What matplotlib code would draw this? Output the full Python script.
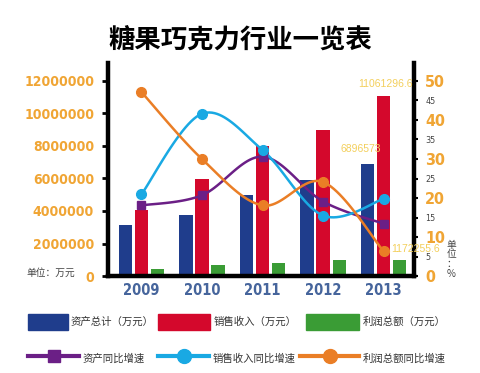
import numpy as np
import matplotlib.pyplot as plt
from matplotlib.patches import Patch
from matplotlib.lines import Line2D
from matplotlib import font_manager

plt.rcParams['font.family'] = ['Noto Sans CJK SC', 'DejaVu Sans']

years = ['2009', '2010', '2011', '2012', '2013']
assets = [3130000, 3770000, 4990000, 5900000, 6896573]
sales = [4060000, 5980000, 7980000, 8970000, 11061296.6]
profit = [410000, 680000, 780000, 990000, 1000000]
asset_growth = [18.1, 20.7, 30.6, 19.1, 13.4]
sales_growth = [20.9, 41.6, 32.3, 15.5, 19.8]
profit_growth = [47.2, 30.0, 18.1, 24.1, 6.3]
left_ticks = [0, 2000000, 4000000, 6000000, 8000000, 10000000, 12000000]
right_ticks = list(range(0, 55, 5))

c_blue, c_red, c_green = '#1f3d8c', '#d4082c', '#3a9c35'
c_purple, c_cyan, c_orange = '#6b1f86', '#19a9e3', '#ea7e26'
c_tick = '#f0a534'
c_note = '#f3cf5c'
YMAX_L, YMAX_R = 13100000, 54.6


def numprop(size, bold=True):
    return font_manager.FontProperties(family='DejaVu Sans', stretch='condensed',
                                       weight='bold' if bold else 'normal', size=size)


def smooth(xs, ys, n=25):
    # catmull-rom style bezier, like excel's smoothed line
    p = np.column_stack([xs, ys]).astype(float)
    ext = np.vstack([p[0], p, p[-1]])
    t = np.linspace(0, 1, n)[:, None]
    out = []
    for i in range(len(p) - 1):
        b0 = ext[i + 1]
        b3 = ext[i + 2]
        b1 = b0 + (ext[i + 2] - ext[i]) / 6
        b2 = b3 - (ext[i + 3] - ext[i + 1]) / 6
        seg = (1 - t)**3 * b0 + 3 * (1 - t)**2 * t * b1 + 3 * (1 - t) * t**2 * b2 + t**3 * b3
        out.append(seg if i == 0 else seg[1:])
    out = np.vstack(out)
    return out[:, 0], out[:, 1]


fig = plt.figure(figsize=(4.8, 3.73), dpi=100)
ax = fig.add_axes([0.225, 0.26, 0.6375, 0.571])
ax2 = ax.twinx()

x = np.arange(len(years))
w = 0.22
ax.bar(x - 0.265, assets, w, color=c_blue)
ax.bar(x, sales, w, color=c_red)
ax.bar(x + 0.265, profit, w, color=c_green)

ax.set_xlim(-0.55, 4.5)
ax.set_ylim(0, YMAX_L)
ax.set_yticks(left_ticks)
ax.set_yticklabels([str(v) for v in left_ticks], fontproperties=numprop(10), color=c_tick)
ax.set_xticks(x)
ax.set_xticklabels(years, fontproperties=numprop(10.5), color='#46659c')
ax.tick_params(axis='x', length=0, pad=5)
ax.tick_params(axis='y', length=4, width=2, color='black', pad=6)

for s in ['top', 'right']:
    ax.spines[s].set_visible(False)
for s in ['left', 'bottom']:
    ax.spines[s].set_linewidth(3.2)

for sx, col, mk in [(asset_growth, c_purple, 's'),
                    (sales_growth, c_cyan, 'o'),
                    (profit_growth, c_orange, 'o')]:
    cx, cy = smooth(x, sx)
    ax2.plot(cx, cy, color=col, lw=1.8, zorder=3)
    ax2.plot(x, sx, mk, color=col, ms=7 if mk == 'o' else 6, zorder=4)

ax2.set_ylim(0, YMAX_R)
ax2.set_yticks(right_ticks)
ax2.set_yticklabels([str(v) for v in right_ticks])
for v, lab in zip(right_ticks, ax2.get_yticklabels()):
    if v % 10 == 0:
        lab.set_fontproperties(numprop(11.5))
        lab.set_color(c_tick)
    else:
        lab.set_fontproperties(numprop(6.5, bold=False))
        lab.set_color('#444444')
ax2.tick_params(axis='y', length=3, width=1.5, color='black', pad=5)
for s in ['top', 'left', 'bottom']:
    ax2.spines[s].set_visible(False)
ax2.spines['right'].set_linewidth(3.2)

# value notes for 2013
note = dict(textcoords='offset points', ha='center', va='bottom', fontsize=7.5,
            color=c_note, family=['Liberation Sans', 'DejaVu Sans'],
            annotation_clip=False, zorder=6)
k = YMAX_R / YMAX_L
ax2.annotate('11061296.6', (4, sales[4] * k), xytext=(1, 5), **note)
ax2.annotate('6896573', (4 - 0.265, assets[4] * k), xytext=(-5, 7), **note)
ax2.annotate('1172255.6', (4 + 0.265, profit[4] * k), xytext=(11, 4), **note)

fig.text(0.5, 0.893, '糖果巧克力行业一览表', ha='center', va='center',
         fontsize=19, fontweight='heavy', color='black')
fig.text(0.056, 0.268, '单位：万元', ha='left', va='center', fontsize=7, color='#444444')
fig.text(0.94, 0.305, '单\n位\n：\n%', ha='center', va='center', fontsize=7,
         color='#444444', linespacing=0.95)

# legend, one entry at a time so the columns sit where they should
entries = [
    (Patch(color=c_blue), '资产总计（万元）', 28, 322, 3.8),
    (Patch(color=c_red), '销售收入（万元）', 158, 322, 5.0),
    (Patch(color=c_green), '利润总额（万元）', 306, 322, 5.1),
    (Line2D([], [], color=c_purple, lw=3, marker='s', ms=9), '资产同比增速', 28, 358, 4.9),
    (Line2D([], [], color=c_cyan, lw=3, marker='o', ms=10), '销售收入同比增速', 158, 358, 4.9),
    (Line2D([], [], color=c_orange, lw=3, marker='o', ms=10), '利润总额同比增速', 300, 358, 5.7),
]
for h, lab, px, py, hl in entries:
    fig.legend([h], [lab], loc='center left', bbox_to_anchor=(px / 480, 1 - py / 373),
               frameon=False, fontsize=7.5, handlelength=hl, handleheight=1.9,
               handletextpad=0.3, borderpad=0, borderaxespad=0, labelcolor='#333333')

fig.savefig('out.png', dpi=100, facecolor='white')
